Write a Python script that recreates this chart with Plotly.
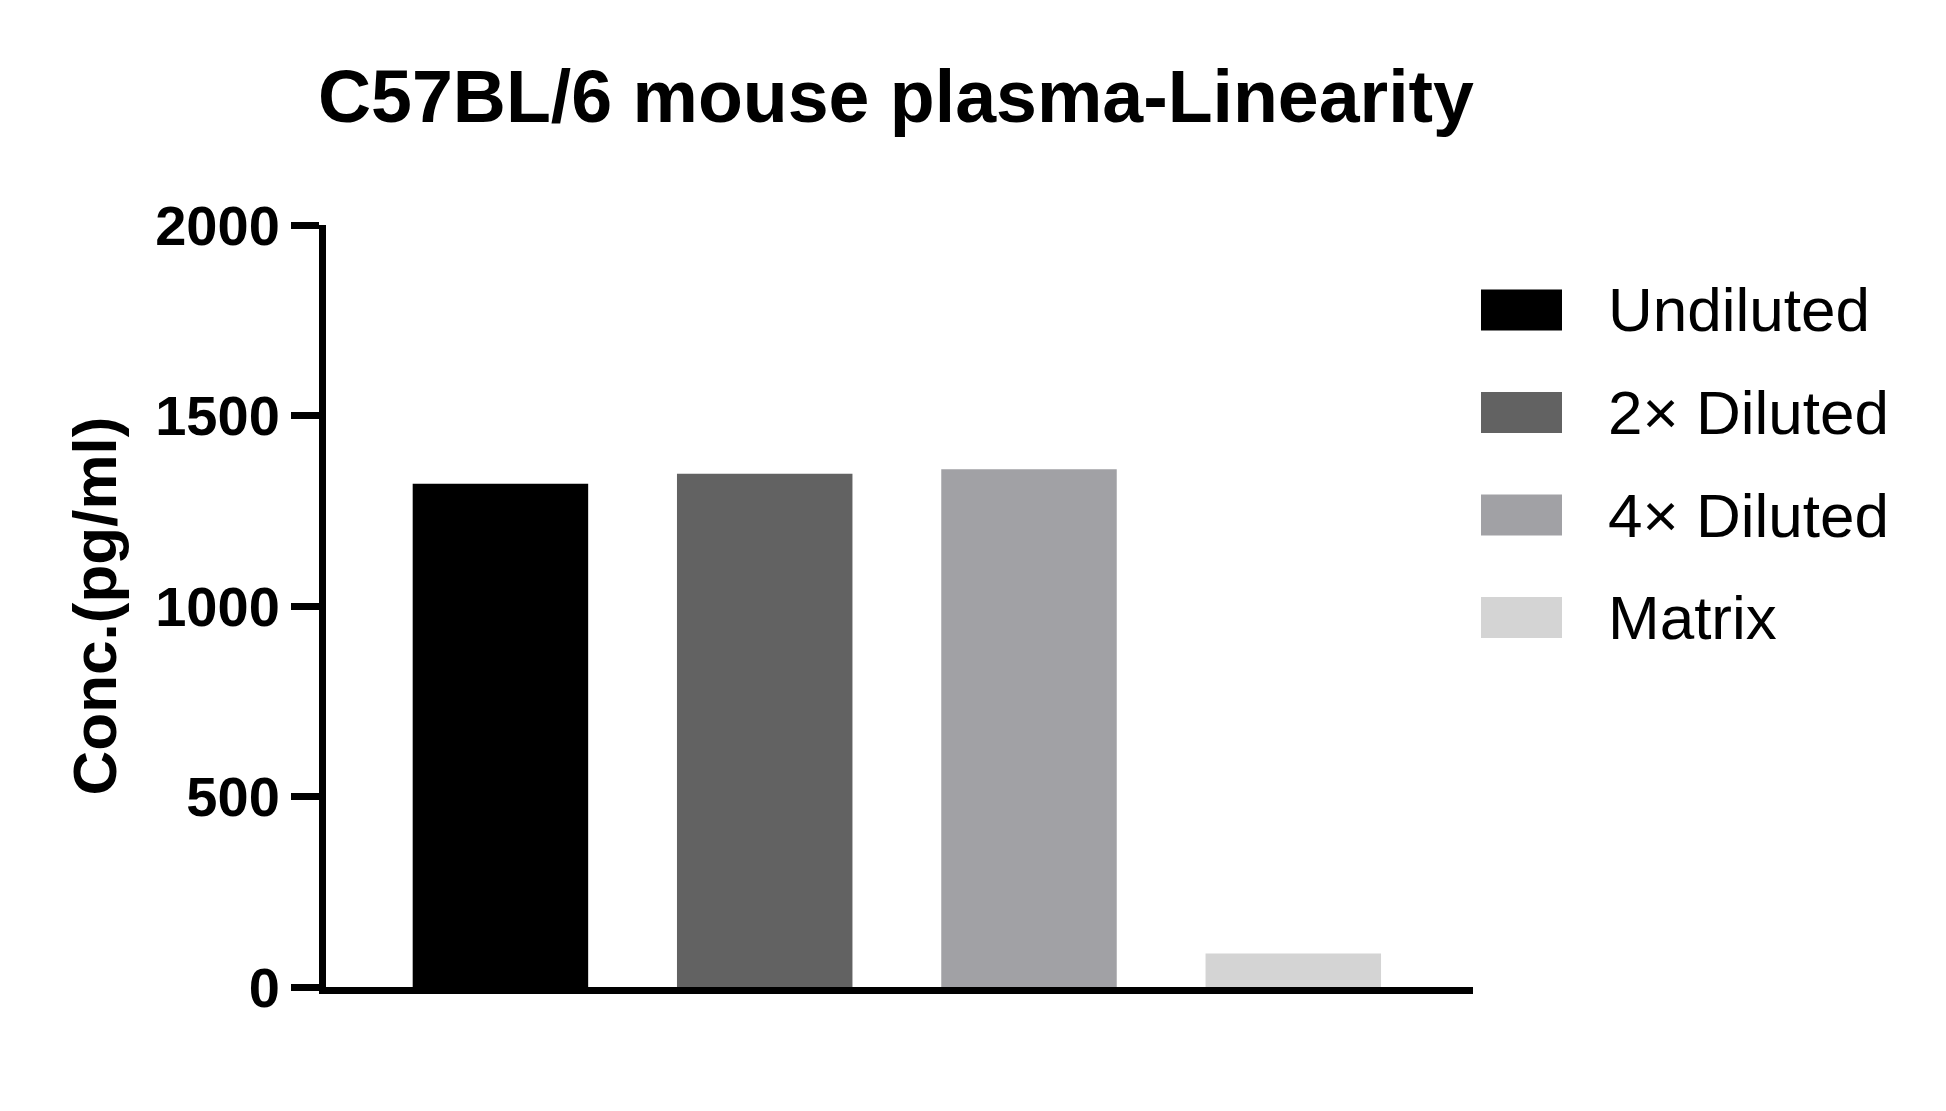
import plotly.graph_objects as go

# data
groups = ['Undiluted', '2× Diluted', '4× Diluted', 'Matrix']
conc = [1321, 1347, 1359, 88]
bar_colors = ['#000000', '#626262', '#a1a1a5', '#d4d4d4']
y_ticks = [0, 500, 1000, 1500, 2000]

FONT = 'Liberation Sans, Arial, sans-serif'

# figure / plot area in pixels
W, H = 1946, 1111
L, R, T, B = 326, 473, 225, 124
pw, ph = W - L - R, H - T - B

fig = go.Figure()
fig.add_trace(go.Bar(
    x=groups, y=conc,
    marker=dict(color=bar_colors, line=dict(width=0)),
    width=0.664,
    showlegend=False,
))

# hand-made legend, large swatches like the original
for i, (name, col) in enumerate(zip(groups, bar_colors)):
    cy = 310 + i * 102.5
    fig.add_shape(
        type='rect', xref='paper', yref='paper',
        x0=(1481 - L) / pw, x1=(1562 - L) / pw,
        y0=(H - B - (cy + 20.5)) / ph, y1=(H - B - (cy - 20.5)) / ph,
        fillcolor=col, line=dict(width=0),
    )
    fig.add_annotation(
        text=name, xref='paper', yref='paper',
        x=(1606 - L) / pw, y=(H - B - cy) / ph,
        xanchor='left', yanchor='middle', showarrow=False,
        font=dict(family=FONT, size=62, color='black'),
    )

fig.update_layout(
    width=W, height=H,
    margin=dict(l=L, r=R, t=T, b=B),
    plot_bgcolor='white', paper_bgcolor='white',
    title=dict(
        text='C57BL/6 mouse plasma-Linearity',
        x=(896 - L) / pw, xref='paper', xanchor='center',
        y=1 - 96 / H, yanchor='middle',
        font=dict(family=FONT, size=73.5, color='black', weight='bold'),
    ),
    xaxis=dict(
        range=[-0.66, 3.68],
        showline=True, linecolor='black', linewidth=7,
        showticklabels=False, ticks='', showgrid=False, zeroline=False,
    ),
    yaxis=dict(
        range=[0, 2000], tickvals=y_ticks,
        showline=True, linecolor='black', linewidth=7,
        ticks='outside', ticklen=28, tickwidth=7, tickcolor='black',
        showgrid=False, zeroline=False,
        tickfont=dict(family=FONT, size=56, color='black', weight='bold'),
        title=dict(
            text='Conc.(pg/ml)', standoff=21,
            font=dict(family=FONT, size=62, color='black', weight='bold'),
        ),
    ),
)

# page body has an 8px default margin; drop it so the figure sits at 0,0
fig.write_html('out.html', config={'displayModeBar': False},
               post_script="document.body.style.margin='0px';")
